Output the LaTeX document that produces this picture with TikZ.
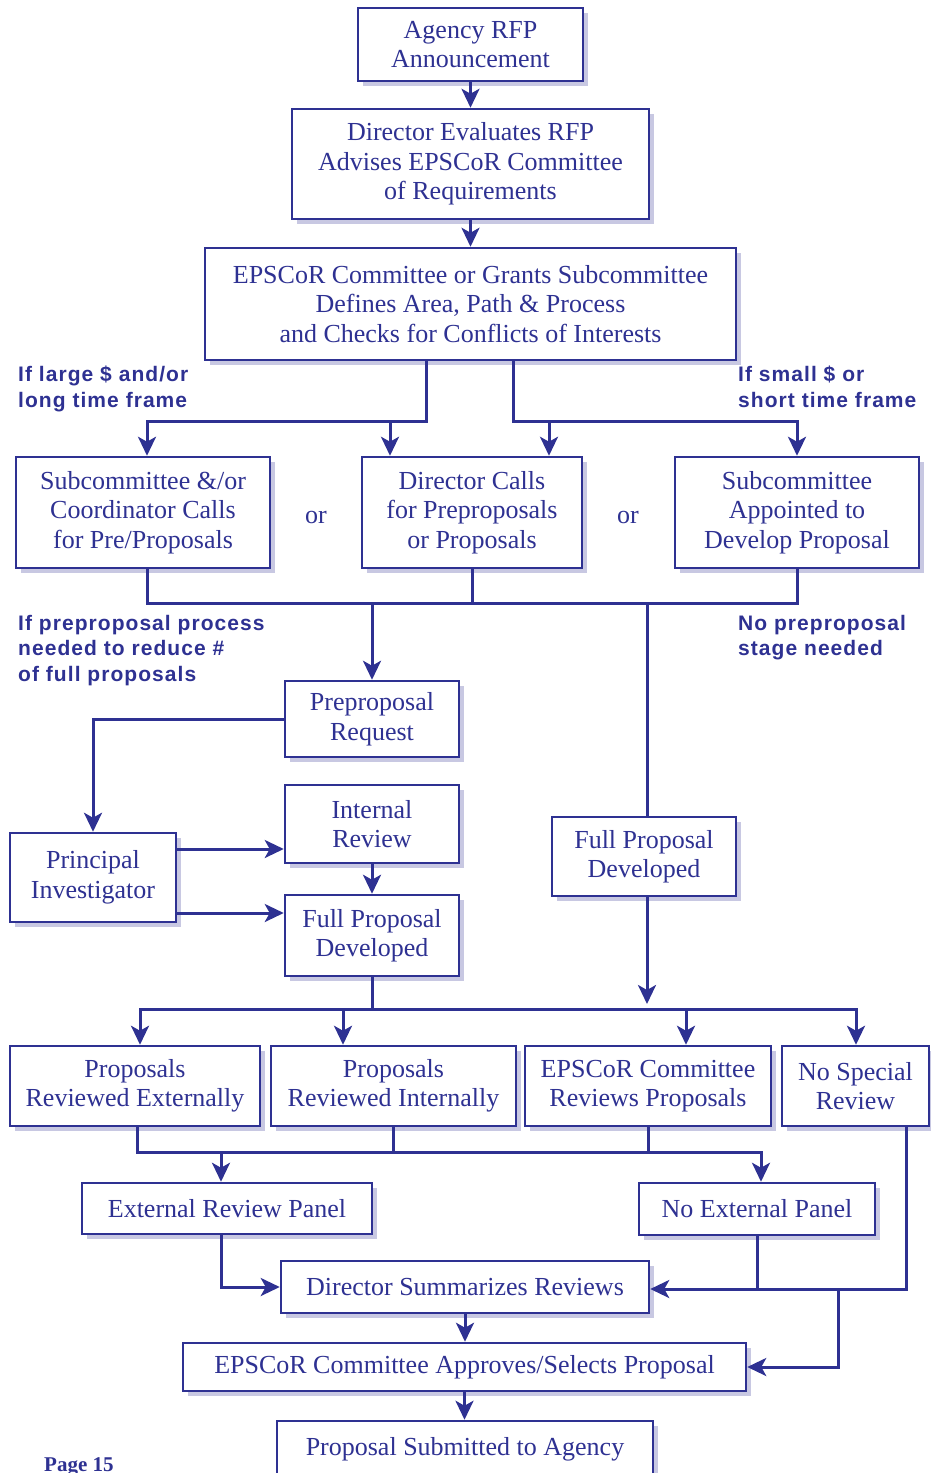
\documentclass[tikz,border=0pt]{standalone}
\usepackage{fontspec}
\setmainfont{Liberation Serif}
\newfontfamily\labfont[LetterSpace=5]{Liberation Sans}
\usetikzlibrary{arrows.meta,shadows}
\definecolor{myblue}{RGB}{46,49,146}
\definecolor{shadowc}{RGB}{200,200,226}
\begin{document}
\begin{tikzpicture}[x=1pt,y=-1pt,
 box/.style={draw=myblue, line width=2.5pt, fill=white, text=myblue, align=center, inner sep=0pt,
   font=\fontsize{26}{29.5}\selectfont,
   drop shadow={shadow xshift=5pt, shadow yshift=-5pt, fill=shadowc, opacity=1}},
 ln/.style={draw=myblue, line width=3pt},
 arr/.style={ln, -{Stealth[length=19pt,width=18pt,inset=5pt]}},
 lab/.style={text=myblue, anchor=north west, inner sep=0pt, align=left,
   font=\labfont\bfseries\fontsize{21}{25.5}\selectfont},
 ortext/.style={text=myblue, inner sep=0pt, font=\fontsize{26}{29.5}\selectfont}]
\useasboundingbox (0,0) rectangle (930,1473);

% boxes
\node[box, minimum width=225pt, minimum height=73pt] (a1) at (470.5,44.5) {Agency RFP\\Announcement};
\node[box, minimum width=357pt, minimum height=110pt] (a2) at (470.5,164) {Director Evaluates RFP\\Advises EPSCoR Committee\\of Requirements};
\node[box, minimum width=531pt, minimum height=112pt] (a3) at (470.5,304) {EPSCoR Committee or Grants Subcommittee\\Defines Area, Path \& Process\\and Checks for Conflicts of Interests};
\node[box, minimum width=254pt, minimum height=111pt] (b1) at (143,512.5) {Subcommittee \&/or\\Coordinator Calls\\for Pre/Proposals};
\node[box, minimum width=220pt, minimum height=111pt] (b2) at (472,512.5) {Director Calls\\for Preproposals\\or Proposals};
\node[box, minimum width=244pt, minimum height=111pt] (b3) at (797,512.5) {Subcommittee\\Appointed to\\Develop Proposal};
\node[box, minimum width=174pt, minimum height=76pt] (pre) at (372,719) {Preproposal\\Request};
\node[box, minimum width=174pt, minimum height=78pt] (ir) at (372,824) {Internal\\Review};
\node[box, minimum width=166pt, minimum height=89pt] (pi) at (93,877.5) {Principal\\Investigator};
\node[box, minimum width=174pt, minimum height=81pt] (fpl) at (372,935.5) {Full Proposal\\Developed};
\node[box, minimum width=184pt, minimum height=79pt] (fpr) at (644,856.5) {Full Proposal\\Developed};
\node[box, minimum width=250pt, minimum height=80pt] (r1) at (135,1086) {Proposals\\Reviewed Externally};
\node[box, minimum width=245pt, minimum height=80pt] (r2) at (393.5,1086) {Proposals\\Reviewed Internally};
\node[box, minimum width=246pt, minimum height=80pt] (r3) at (648,1086) {EPSCoR Committee\\Reviews Proposals};
\node[box, minimum width=147pt, minimum height=80pt] (r4) at (855.5,1086) {No Special\\Review};
\node[box, minimum width=290pt, minimum height=51pt] (erp) at (227,1208.5) {External Review Panel};
\node[box, minimum width=236pt, minimum height=52pt] (nep) at (757,1209) {No External Panel};
\node[box, minimum width=368pt, minimum height=52pt] (dsr) at (465,1287) {Director Summarizes Reviews};
\node[box, minimum width=563pt, minimum height=48pt] (app) at (464.5,1367) {EPSCoR Committee Approves/Selects Proposal};
\node[box, minimum width=376pt, minimum height=57pt] (sub) at (465,1449.5) {\raisebox{3pt}{Proposal Submitted to Agency}};

% labels
\node[lab] (l1) at (18,366) {If large \$ and/or\\long time frame};
\node[lab] (l2) at (738,366) {If small \$ or\\short time frame};
\node[lab] (l3) at (18,615) {If preproposal process\\needed to reduce \#\\of full proposals};
\node[lab] (l4) at (738,615) {No preproposal\\stage needed};
\node[ortext] (or1) at (316,517) {or};
\node[ortext] (or2) at (628,517) {or};
\node[text=myblue, inner sep=0pt, anchor=base west, font=\bfseries\fontsize{21}{25}\selectfont] (pg) at (44,1471) {Page 15};

% connectors
\draw[arr] (a1) -- (a2);
\draw[arr] (a2) -- (a3);

\coordinate (jL) at (426,421);
\coordinate (jR) at (513,421);
\coordinate (b1x) at (147,0);
\coordinate (b2a) at (390,421);
\coordinate (b2b) at (549,421);
\draw[arr] (a3.south -| jL) |- (b1x |- jL) -- (b1x |- b1.north);
\draw[arr] (b2a) -- (b2.north -| b2a);
\draw[arr] (a3.south -| jR) |- (b3.north |- jR) -- (b3.north);
\draw[arr] (b2b) -- (b2.north -| b2b);

\coordinate (m) at (0,603);
\coordinate (mp) at (372,603);
\coordinate (mf) at (647,603);
\draw[ln] (b1x |- b1.south) |- (b3.south |- m) -- (b3.south);
\draw[ln] (b2.south) -- (b2.south |- m);
\draw[arr] (mp) -- (pre);
\draw[ln] (mf) -- (fpr.north -| mf);

\coordinate (y1) at (0,849);
\coordinate (y2) at (0,913);
\draw[arr] (pre.west) -| (pi.north);
\draw[arr] (pi.east |- y1) -- (ir.west |- y1);
\draw[arr] (pi.east |- y2) -- (fpl.west |- y2);
\draw[arr] (ir) -- (fpl);
\coordinate (fe) at (647,1004);
\draw[arr] (fpr.south -| mf) -- (fe);

\coordinate (d) at (0,1009);
\coordinate (dL) at (140,1009);
\coordinate (dR) at (856,1009);
\coordinate (d2) at (343,1009);
\coordinate (d3) at (686,1009);
\draw[arr] (fpl.south) |- (dL) -- (r1.north -| dL);
\draw[arr] (fpl.south |- d) -| (r4.north -| dR);
\draw[arr] (d2) -- (r2.north -| d2);
\draw[arr] (d3) -- (r3.north -| d3);

\coordinate (c) at (0,1152);
\coordinate (cL) at (137,0);
\coordinate (ea) at (221,1152);
\coordinate (na) at (761,0);
\draw[arr] (cL |- r1.south) |- (na |- c) -- (na |- nep.north);
\draw[ln] (r2.south) -- (r2.south |- c);
\draw[ln] (r3.south) -- (r3.south |- c);
\draw[arr] (ea) -- (erp.north -| ea);
\draw[arr] (erp.south -| ea) |- (dsr.west);

\coordinate (rr) at (0,1289);
\coordinate (rx) at (906,0);
\coordinate (ax) at (838,1289);
\draw[ln] (nep.south) -- (nep.south |- rr);
\draw[arr] (rx |- r4.south) |- (dsr.east |- rr);
\draw[arr] (ax) |- (app.east);
\draw[arr] (dsr.south) -- (dsr.south |- app.north);
\draw[arr] (app.south) -- (app.south |- sub.north);
\end{tikzpicture}
\end{document}
